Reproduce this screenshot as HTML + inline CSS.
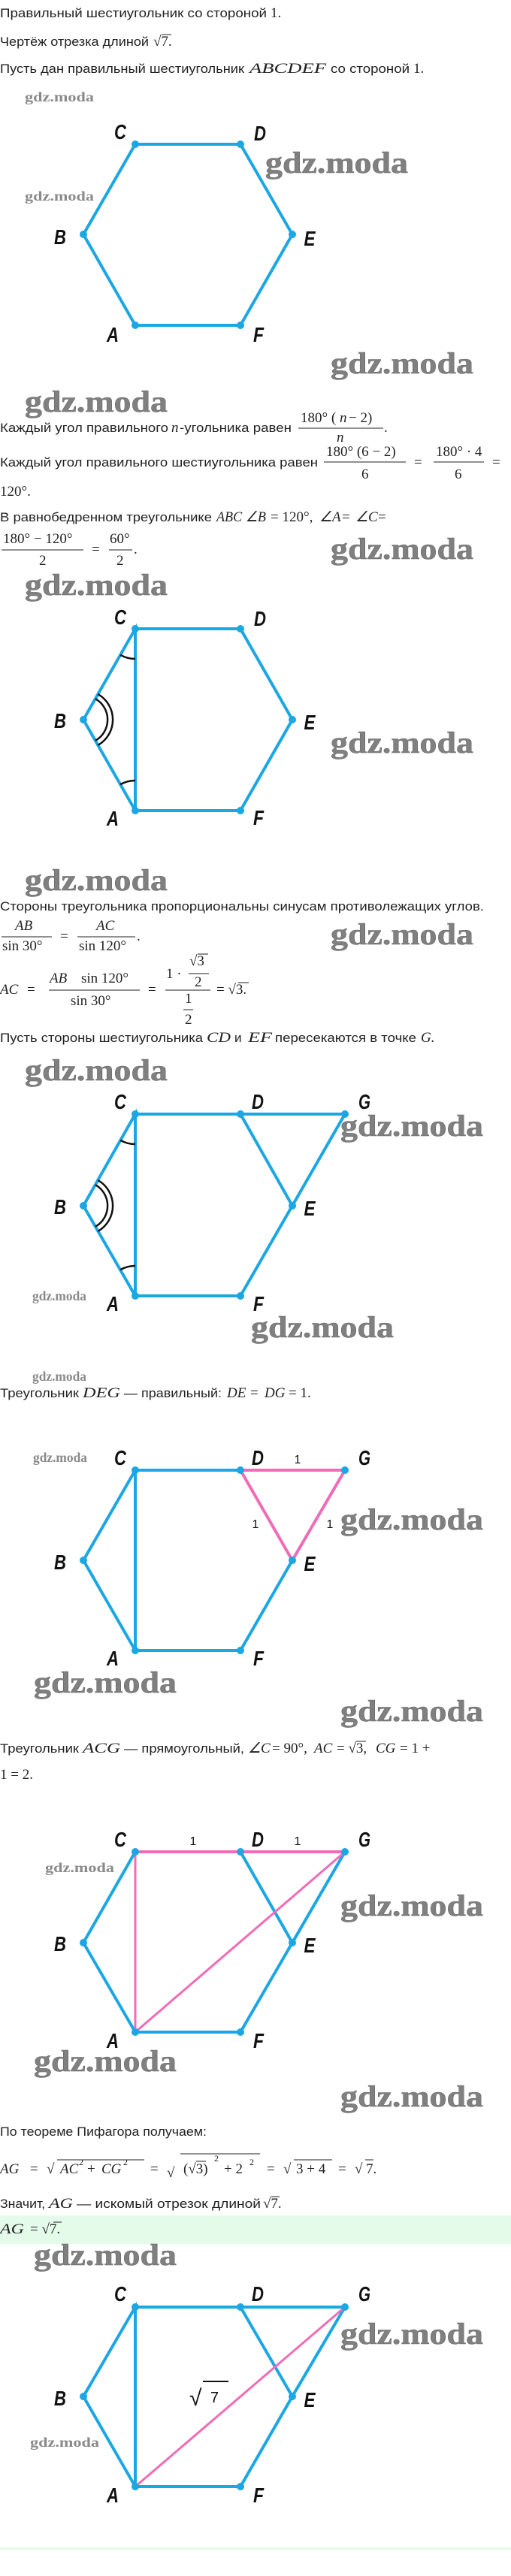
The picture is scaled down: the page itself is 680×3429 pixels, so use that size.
<!DOCTYPE html>
<html><head><meta charset="utf-8">
<style>
html,body{margin:0;padding:0;background:#fff;}
svg{display:block;}
.t{font-family:"Liberation Sans",sans-serif;font-size:17px;fill:#222;}
.m{font-family:"Liberation Serif",serif;font-size:19px;fill:#222;}
.mi{font-family:"Liberation Serif",serif;font-size:19px;font-style:italic;fill:#222;}
.ms{font-family:"Liberation Serif",serif;font-size:12px;fill:#222;}
.wb{font-family:"Liberation Serif",serif;font-weight:bold;font-size:40px;fill:#808080;stroke:#666;stroke-width:0.5;}
.ws{font-family:"Liberation Serif",serif;font-weight:bold;font-size:18px;fill:#8a8a8a;}
.lb{font-family:"Liberation Sans",sans-serif;font-weight:bold;font-style:italic;font-size:28px;fill:#111;text-anchor:middle;}
.one{font-family:"Liberation Sans",sans-serif;font-size:16px;fill:#111;text-anchor:middle;}
.bl{stroke:#1ba6e4;stroke-width:4;fill:none;stroke-linecap:round;}
.pk{stroke:#f06cb6;stroke-width:4;fill:none;stroke-linecap:round;}
.pk2{stroke:#f06cb6;stroke-width:3;fill:none;stroke-linecap:round;}
.dot{fill:#1ba6e4;}
.mk{stroke:#111;stroke-width:2.5;fill:none;}
.bar{stroke:#222;stroke-width:1;}
</style></head>
<body>
<svg width="680" height="3429" viewBox="0 0 680 3429" xmlns="http://www.w3.org/2000/svg">

<text class="t" x="0" y="23" textLength="355" lengthAdjust="spacingAndGlyphs">Правильный шестиугольник со стороной</text><text class="m" x="360" y="23">1.</text>
<text class="t" x="0" y="61" textLength="198" lengthAdjust="spacingAndGlyphs">Чертёж отрезка длиной</text><text class="m" x="204" y="61">√7.</text>
<line class="bar" x1="215" y1="46" x2="228" y2="46"/>
<text class="t" x="0" y="97" textLength="325" lengthAdjust="spacingAndGlyphs">Пусть дан правильный шестиугольник</text><text class="mi" x="332" y="97" textLength="102" lengthAdjust="spacingAndGlyphs">ABCDEF</text><text class="t" x="440" y="97" textLength="105" lengthAdjust="spacingAndGlyphs">со стороной</text><text class="m" x="550" y="97">1.</text>

<text class="ws" x="33" y="135" textLength="92" lengthAdjust="spacingAndGlyphs">gdz.moda</text>
<text class="ws" x="33" y="267" textLength="92" lengthAdjust="spacingAndGlyphs">gdz.moda</text>
<text class="wb" x="353" y="230" textLength="190" lengthAdjust="spacingAndGlyphs">gdz.moda</text>

<polyline class="bl" points="180,192 320,192 389,312 320,433 180,433 111,312 180,192"/>
<g class="dot"><circle cx="180" cy="192" r="5"/><circle cx="320" cy="192" r="5"/><circle cx="389" cy="312" r="5"/><circle cx="320" cy="433" r="5"/><circle cx="180" cy="433" r="5"/><circle cx="111" cy="312" r="5"/></g>
<text class="lb" x="160" y="185" textLength="16" lengthAdjust="spacingAndGlyphs">C</text>
<text class="lb" x="346" y="187" textLength="16" lengthAdjust="spacingAndGlyphs">D</text>
<text class="lb" x="80" y="325" textLength="16" lengthAdjust="spacingAndGlyphs">B</text>
<text class="lb" x="412" y="327" textLength="15" lengthAdjust="spacingAndGlyphs">E</text>
<text class="lb" x="150" y="455" textLength="16" lengthAdjust="spacingAndGlyphs">A</text>
<text class="lb" x="344" y="455" textLength="14" lengthAdjust="spacingAndGlyphs">F</text>

<text class="wb" x="440" y="497" textLength="190" lengthAdjust="spacingAndGlyphs">gdz.moda</text>
<text class="wb" x="33" y="548" textLength="190" lengthAdjust="spacingAndGlyphs">gdz.moda</text>

<text class="t" x="0" y="575" textLength="224" lengthAdjust="spacingAndGlyphs">Каждый угол правильного</text><text class="mi" x="228" y="575">n</text><text class="t" x="239" y="575" textLength="149" lengthAdjust="spacingAndGlyphs">-угольника равен</text>
<text class="m" x="400" y="562">180° (</text><text class="mi" x="452" y="562">n</text><text class="m" x="464" y="562">− 2)</text>
<line class="bar" x1="397" y1="570" x2="510" y2="570"/>
<text class="mi" x="448" y="588">n</text><text class="m" x="511" y="575">.</text>

<text class="t" x="0" y="621" textLength="423" lengthAdjust="spacingAndGlyphs">Каждый угол правильного шестиугольника равен</text>
<text class="m" x="434" y="607">180° (6 − 2)</text>
<line class="bar" x1="431" y1="615" x2="540" y2="615"/>
<text class="m" x="481" y="637">6</text>
<text class="m" x="551" y="621">=</text>
<text class="m" x="580" y="607">180° · 4</text>
<line class="bar" x1="577" y1="615" x2="644" y2="615"/>
<text class="m" x="605" y="637">6</text>
<text class="m" x="655" y="621">=</text>
<text class="m" x="0" y="660">120°.</text>

<text class="t" x="0" y="694" textLength="282" lengthAdjust="spacingAndGlyphs">В равнобедренном треугольнике</text><text class="mi" x="288" y="694" textLength="66" lengthAdjust="spacingAndGlyphs">ABC ∠B</text><text class="m" x="360" y="694">= 120°,</text><text class="mi" x="425" y="694">∠A</text><text class="m" x="455" y="694">=</text><text class="mi" x="473" y="694">∠C</text><text class="m" x="503" y="694">=</text>
<text class="m" x="4" y="723">180° − 120°</text>
<line class="bar" x1="2" y1="732" x2="111" y2="732"/>
<text class="m" x="52" y="752">2</text>
<text class="m" x="122" y="737">=</text>
<text class="m" x="146" y="723">60°</text>
<line class="bar" x1="145" y1="732" x2="176" y2="732"/>
<text class="m" x="155" y="752">2</text><text class="m" x="178" y="737">.</text>

<text class="wb" x="440" y="744" textLength="190" lengthAdjust="spacingAndGlyphs">gdz.moda</text>
<text class="wb" x="33" y="792" textLength="190" lengthAdjust="spacingAndGlyphs">gdz.moda</text>

<polyline class="bl" points="180,837 320,837 389,958 320,1079 180,1079 111,958 180,837 180,1079"/>
<path class="mk" d="M160.2,871.8 A40 40 0 0 0 180,877"/>
<path class="mk" d="M160.2,1044.2 A40 40 0 0 1 180,1039"/>
<path class="mk" d="M127,930.2 A32 32 0 0 1 127,985.8"/>
<path class="mk" d="M130.4,924.1 A39 39 0 0 1 130.4,991.9"/>
<g class="dot"><circle cx="180" cy="837" r="5"/><circle cx="320" cy="837" r="5"/><circle cx="389" cy="958" r="5"/><circle cx="320" cy="1079" r="5"/><circle cx="180" cy="1079" r="5"/><circle cx="111" cy="958" r="5"/></g>
<text class="lb" x="160" y="831" textLength="16" lengthAdjust="spacingAndGlyphs">C</text>
<text class="lb" x="346" y="833" textLength="16" lengthAdjust="spacingAndGlyphs">D</text>
<text class="lb" x="80" y="969" textLength="16" lengthAdjust="spacingAndGlyphs">B</text>
<text class="lb" x="412" y="971" textLength="15" lengthAdjust="spacingAndGlyphs">E</text>
<text class="lb" x="150" y="1099" textLength="16" lengthAdjust="spacingAndGlyphs">A</text>
<text class="lb" x="344" y="1098" textLength="14" lengthAdjust="spacingAndGlyphs">F</text>
<text class="wb" x="440" y="1002" textLength="190" lengthAdjust="spacingAndGlyphs">gdz.moda</text>

<text class="wb" x="33" y="1185" textLength="190" lengthAdjust="spacingAndGlyphs">gdz.moda</text>

<text class="t" x="0" y="1212" textLength="644" lengthAdjust="spacingAndGlyphs">Стороны треугольника пропорциональны синусам противолежащих углов.</text>
<text class="mi" x="20" y="1238">AB</text>
<line class="bar" x1="2" y1="1247" x2="69" y2="1247"/>
<text class="m" x="3" y="1265">sin 30°</text>
<text class="m" x="80" y="1252">=</text>
<text class="mi" x="128" y="1238">AC</text>
<line class="bar" x1="103" y1="1247" x2="180" y2="1247"/>
<text class="m" x="105" y="1265">sin 120°</text><text class="m" x="182" y="1252">.</text>
<text class="wb" x="440" y="1257" textLength="190" lengthAdjust="spacingAndGlyphs">gdz.moda</text>

<text class="mi" x="0" y="1323">AC</text><text class="m" x="36" y="1323">=</text>
<text class="mi" x="66" y="1308">AB</text><text class="m" x="108" y="1308">sin 120°</text>
<line class="bar" x1="65" y1="1318" x2="186" y2="1318"/>
<text class="m" x="94" y="1338">sin 30°</text>
<text class="m" x="197" y="1323">=</text>
<text class="m" x="221" y="1302">1 ·</text>
<text class="m" x="252" y="1285">√3</text>
<line class="bar" x1="263" y1="1270" x2="277" y2="1270"/>
<line class="bar" x1="251" y1="1296" x2="278" y2="1296"/>
<text class="m" x="259" y="1313">2</text>
<line class="bar" x1="220" y1="1318" x2="280" y2="1318"/>
<text class="m" x="246" y="1335">1</text>
<line class="bar" x1="244" y1="1344" x2="257" y2="1344"/>
<text class="m" x="246" y="1363">2</text>
<text class="m" x="288" y="1323">= √3.</text>
<line class="bar" x1="317" y1="1308" x2="331" y2="1308"/>

<text class="t" x="0" y="1387" textLength="270" lengthAdjust="spacingAndGlyphs">Пусть стороны шестиугольника</text><text class="mi" x="275" y="1387" textLength="32" lengthAdjust="spacingAndGlyphs">CD</text><text class="t" x="312" y="1387">и</text><text class="mi" x="330" y="1387" textLength="32" lengthAdjust="spacingAndGlyphs">EF</text><text class="t" x="366" y="1387" textLength="188" lengthAdjust="spacingAndGlyphs">пересекаются в точке</text><text class="mi" x="560" y="1387">G.</text>

<text class="wb" x="33" y="1438" textLength="190" lengthAdjust="spacingAndGlyphs">gdz.moda</text>

<polyline class="bl" points="180,1483 320,1483 459,1483 389,1605 320,1725 180,1725 111,1605 180,1483 180,1725"/>
<line class="bl" x1="320" y1="1483" x2="389" y2="1605"/>
<path class="mk" d="M160.2,1517.8 A40 40 0 0 0 180,1523"/>
<path class="mk" d="M160.2,1690.2 A40 40 0 0 1 180,1685"/>
<path class="mk" d="M127,1577.2 A32 32 0 0 1 127,1632.8"/>
<path class="mk" d="M130.4,1571.1 A39 39 0 0 1 130.4,1638.9"/>
<g class="dot"><circle cx="180" cy="1483" r="5"/><circle cx="320" cy="1483" r="5"/><circle cx="459" cy="1483" r="5"/><circle cx="389" cy="1605" r="5"/><circle cx="320" cy="1725" r="5"/><circle cx="180" cy="1725" r="5"/><circle cx="111" cy="1605" r="5"/></g>
<text class="lb" x="160" y="1476" textLength="16" lengthAdjust="spacingAndGlyphs">C</text>
<text class="lb" x="343" y="1476" textLength="16" lengthAdjust="spacingAndGlyphs">D</text>
<text class="lb" x="485" y="1476" textLength="16" lengthAdjust="spacingAndGlyphs">G</text>
<text class="lb" x="80" y="1616" textLength="16" lengthAdjust="spacingAndGlyphs">B</text>
<text class="lb" x="412" y="1618" textLength="15" lengthAdjust="spacingAndGlyphs">E</text>
<text class="lb" x="150" y="1745" textLength="16" lengthAdjust="spacingAndGlyphs">A</text>
<text class="lb" x="344" y="1745" textLength="14" lengthAdjust="spacingAndGlyphs">F</text>
<text class="wb" x="453" y="1512" textLength="190" lengthAdjust="spacingAndGlyphs">gdz.moda</text>
<text class="ws" x="43" y="1731" textLength="72" lengthAdjust="spacingAndGlyphs">gdz.moda</text>
<text class="wb" x="334" y="1780" textLength="190" lengthAdjust="spacingAndGlyphs">gdz.moda</text>
<text class="ws" x="43" y="1838" textLength="72" lengthAdjust="spacingAndGlyphs">gdz.moda</text>

<text class="t" x="0" y="1860" textLength="105" lengthAdjust="spacingAndGlyphs">Треугольник</text><text class="mi" x="110" y="1860" textLength="50" lengthAdjust="spacingAndGlyphs">DEG</text><text class="t" x="165" y="1860" textLength="130" lengthAdjust="spacingAndGlyphs">— правильный:</text><text class="mi" x="302" y="1860">DE</text><text class="m" x="333" y="1860">=</text><text class="mi" x="352" y="1860">DG</text><text class="m" x="384" y="1860">= 1.</text>

<polyline class="bl" points="320,1957 180,1957 111,2077 180,2197 320,2197 389,2077"/>
<line class="bl" x1="180" y1="1957" x2="180" y2="2197"/>
<polygon class="pk" points="320,1957 459,1957 389,2077"/>
<g class="dot"><circle cx="180" cy="1957" r="5"/><circle cx="320" cy="1957" r="5"/><circle cx="459" cy="1957" r="5"/><circle cx="389" cy="2077" r="5"/><circle cx="320" cy="2197" r="5"/><circle cx="180" cy="2197" r="5"/><circle cx="111" cy="2077" r="5"/></g>
<text class="ws" x="44" y="1946" textLength="72" lengthAdjust="spacingAndGlyphs">gdz.moda</text>
<text class="lb" x="160" y="1950" textLength="16" lengthAdjust="spacingAndGlyphs">C</text>
<text class="lb" x="343" y="1950" textLength="16" lengthAdjust="spacingAndGlyphs">D</text>
<text class="lb" x="485" y="1950" textLength="16" lengthAdjust="spacingAndGlyphs">G</text>
<text class="lb" x="80" y="2089" textLength="16" lengthAdjust="spacingAndGlyphs">B</text>
<text class="lb" x="412" y="2091" textLength="15" lengthAdjust="spacingAndGlyphs">E</text>
<text class="lb" x="150" y="2217" textLength="16" lengthAdjust="spacingAndGlyphs">A</text>
<text class="lb" x="344" y="2217" textLength="14" lengthAdjust="spacingAndGlyphs">F</text>
<text class="one" x="396" y="1948">1</text>
<text class="one" x="340" y="2034">1</text>
<text class="one" x="439" y="2034">1</text>
<text class="wb" x="453" y="2036" textLength="190" lengthAdjust="spacingAndGlyphs">gdz.moda</text>
<text class="wb" x="45" y="2253" textLength="190" lengthAdjust="spacingAndGlyphs">gdz.moda</text>
<text class="wb" x="453" y="2291" textLength="190" lengthAdjust="spacingAndGlyphs">gdz.moda</text>

<text class="t" x="0" y="2333" textLength="105" lengthAdjust="spacingAndGlyphs">Треугольник</text><text class="mi" x="110" y="2333" textLength="50" lengthAdjust="spacingAndGlyphs">ACG</text><text class="t" x="165" y="2333" textLength="160" lengthAdjust="spacingAndGlyphs">— прямоугольный,</text><text class="mi" x="330" y="2333">∠C</text><text class="m" x="362" y="2333">= 90°,</text><text class="mi" x="418" y="2333">AC</text><text class="m" x="448" y="2333">= √3,</text><line class="bar" x1="474" y1="2318" x2="487" y2="2318"/><text class="mi" x="500" y="2333">CG</text><text class="m" x="532" y="2333">= 1 +</text>
<text class="m" x="0" y="2368">1 = 2.</text>

<polyline class="bl" points="180,2465 111,2586 180,2705 320,2705 389,2586 320,2465"/>
<line class="bl" x1="389" y1="2586" x2="459" y2="2465"/>
<line class="pk" x1="180" y1="2465" x2="459" y2="2465"/>
<line class="pk2" x1="180" y1="2465" x2="180" y2="2705"/>
<line class="pk2" x1="180" y1="2705" x2="459" y2="2465"/>
<g class="dot"><circle cx="180" cy="2465" r="5"/><circle cx="320" cy="2465" r="5"/><circle cx="459" cy="2465" r="5"/><circle cx="389" cy="2586" r="5"/><circle cx="320" cy="2705" r="5"/><circle cx="180" cy="2705" r="5"/><circle cx="111" cy="2586" r="5"/></g>
<text class="lb" x="160" y="2458" textLength="16" lengthAdjust="spacingAndGlyphs">C</text>
<text class="lb" x="343" y="2458" textLength="16" lengthAdjust="spacingAndGlyphs">D</text>
<text class="lb" x="485" y="2458" textLength="16" lengthAdjust="spacingAndGlyphs">G</text>
<text class="lb" x="80" y="2597" textLength="16" lengthAdjust="spacingAndGlyphs">B</text>
<text class="lb" x="412" y="2599" textLength="15" lengthAdjust="spacingAndGlyphs">E</text>
<text class="lb" x="150" y="2726" textLength="16" lengthAdjust="spacingAndGlyphs">A</text>
<text class="lb" x="344" y="2726" textLength="14" lengthAdjust="spacingAndGlyphs">F</text>
<text class="one" x="257" y="2456">1</text>
<text class="one" x="396" y="2456">1</text>
<text class="ws" x="60" y="2492" textLength="92" lengthAdjust="spacingAndGlyphs">gdz.moda</text>
<text class="wb" x="453" y="2550" textLength="190" lengthAdjust="spacingAndGlyphs">gdz.moda</text>
<text class="wb" x="45" y="2757" textLength="190" lengthAdjust="spacingAndGlyphs">gdz.moda</text>
<text class="wb" x="453" y="2804" textLength="190" lengthAdjust="spacingAndGlyphs">gdz.moda</text>

<text class="t" x="0" y="2843" textLength="275" lengthAdjust="spacingAndGlyphs">По теореме Пифагора получаем:</text>
<text class="mi" x="0" y="2893">AG</text><text class="m" x="40" y="2893">=</text>
<text class="m" x="62" y="2893">√</text><line class="bar" x1="76" y1="2875" x2="192" y2="2875"/>
<text class="mi" x="80" y="2893">AC</text><text class="ms" x="105" y="2882">2</text><text class="m" x="116" y="2893">+</text><text class="mi" x="135" y="2893">CG</text><text class="ms" x="164" y="2882">2</text>
<text class="m" x="200" y="2893">=</text>
<text class="m" x="222" y="2898" font-size="28">√</text><line class="bar" x1="240" y1="2867" x2="346" y2="2867"/>
<text class="m" x="244" y="2893">(√3)</text><line class="bar" x1="261" y1="2877" x2="274" y2="2877"/><text class="ms" x="285" y="2877">2</text><text class="m" x="298" y="2893">+ 2</text><text class="ms" x="332" y="2882">2</text>
<text class="m" x="355" y="2893">=</text>
<text class="m" x="377" y="2893">√</text><line class="bar" x1="391" y1="2875" x2="442" y2="2875"/>
<text class="m" x="394" y="2893">3 + 4</text>
<text class="m" x="450" y="2893">=</text>
<text class="m" x="472" y="2893">√</text><line class="bar" x1="486" y1="2875" x2="497" y2="2875"/>
<text class="m" x="487" y="2893">7.</text>

<text class="t" x="0" y="2939" textLength="60" lengthAdjust="spacingAndGlyphs">Значит,</text><text class="mi" x="65" y="2939" textLength="32" lengthAdjust="spacingAndGlyphs">AG</text><text class="t" x="102" y="2939" textLength="245" lengthAdjust="spacingAndGlyphs">— искомый отрезок длиной</text><text class="m" x="350" y="2939">√7.</text>
<line class="bar" x1="361" y1="2924" x2="372" y2="2924"/>

<rect x="0" y="2949" width="680" height="38" fill="#e5fbe9"/>
<text class="mi" x="0" y="2973" textLength="32" lengthAdjust="spacingAndGlyphs">AG</text><text class="m" x="40" y="2973">= √7.</text>
<line class="bar" x1="71" y1="2958" x2="82" y2="2958"/>

<text class="wb" x="45" y="3015" textLength="190" lengthAdjust="spacingAndGlyphs">gdz.moda</text>

<polyline class="bl" points="180,3071 320,3071 459,3071 389,3190 320,3310 180,3310 111,3190 180,3071 180,3310"/>
<line class="bl" x1="320" y1="3071" x2="389" y2="3190"/>
<line class="pk2" x1="180" y1="3310" x2="459" y2="3071"/>
<g class="dot"><circle cx="180" cy="3071" r="5"/><circle cx="320" cy="3071" r="5"/><circle cx="459" cy="3071" r="5"/><circle cx="389" cy="3190" r="5"/><circle cx="320" cy="3310" r="5"/><circle cx="180" cy="3310" r="5"/><circle cx="111" cy="3190" r="5"/></g>
<text class="lb" x="160" y="3063" textLength="16" lengthAdjust="spacingAndGlyphs">C</text>
<text class="lb" x="343" y="3063" textLength="16" lengthAdjust="spacingAndGlyphs">D</text>
<text class="lb" x="485" y="3063" textLength="16" lengthAdjust="spacingAndGlyphs">G</text>
<text class="lb" x="80" y="3202" textLength="16" lengthAdjust="spacingAndGlyphs">B</text>
<text class="lb" x="412" y="3204" textLength="15" lengthAdjust="spacingAndGlyphs">E</text>
<text class="lb" x="150" y="3331" textLength="16" lengthAdjust="spacingAndGlyphs">A</text>
<text class="lb" x="344" y="3331" textLength="14" lengthAdjust="spacingAndGlyphs">F</text>
<text x="252" y="3202" font-family="Liberation Sans,sans-serif" font-size="30" fill="#111">√</text>
<text x="280" y="3198" font-family="Liberation Sans,sans-serif" font-size="20" fill="#111">7</text>
<line x1="270" y1="3170" x2="304" y2="3170" stroke="#111" stroke-width="2"/>
<text class="wb" x="453" y="3120" textLength="190" lengthAdjust="spacingAndGlyphs">gdz.moda</text>
<text class="ws" x="40" y="3257" textLength="92" lengthAdjust="spacingAndGlyphs">gdz.moda</text>

<rect x="0" y="3391" width="680" height="3" fill="#e5fbe9"/>
</svg>
</body></html>
